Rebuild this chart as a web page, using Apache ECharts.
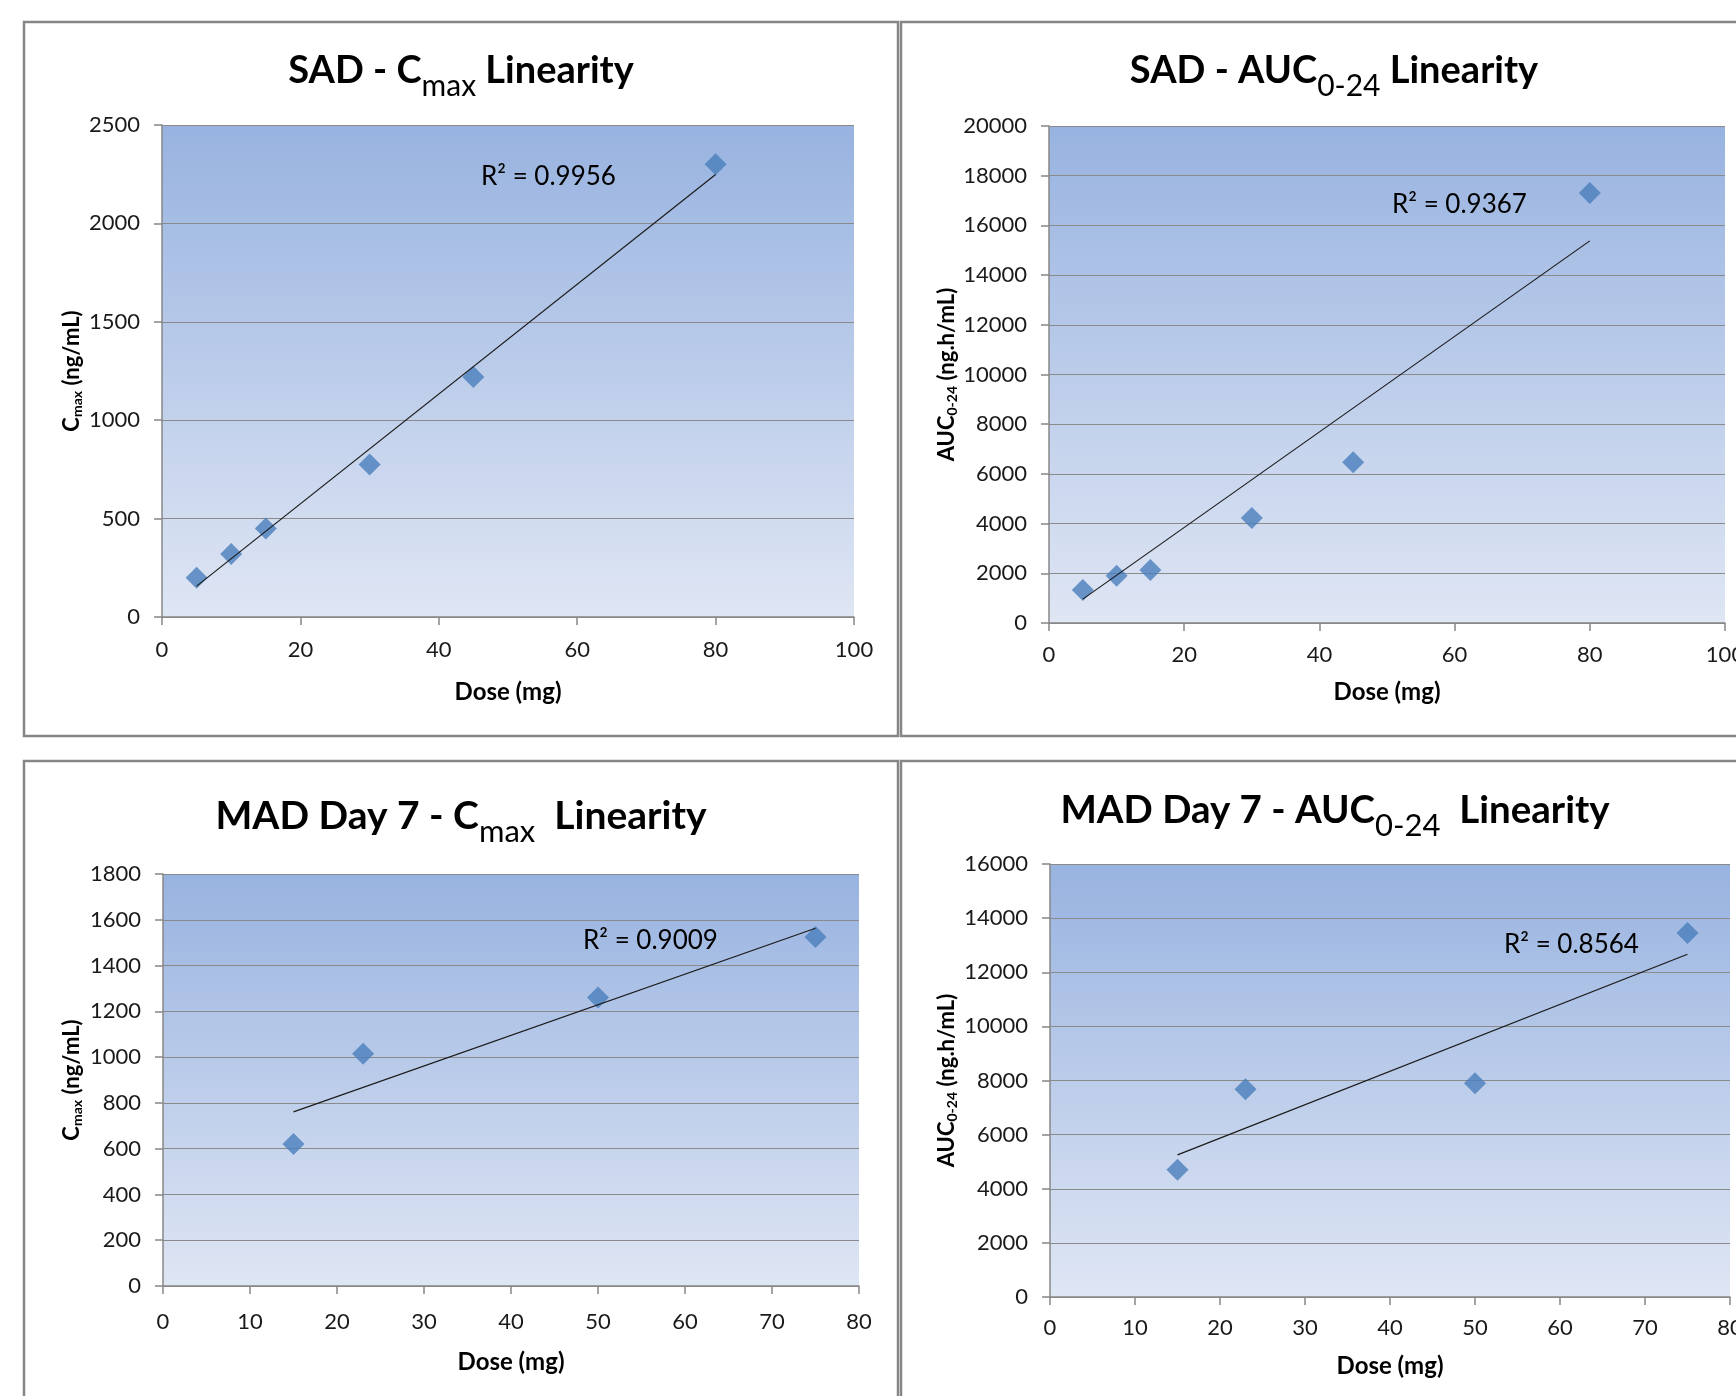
<!DOCTYPE html>
<html>
<head>
<meta charset="utf-8">
<script src="https://cdn.jsdelivr.net/npm/echarts@6/dist/echarts.min.js"></script>
<style>
  html, body { margin: 0; padding: 0; background: #fff; }
  #chart { width: 1736px; height: 1396px; }
</style>
</head>
<body>
<div id="chart"></div>
<script>
// 数据
const sadDose = [5, 10, 15, 30, 45, 80]
const sadCmax = [200, 320, 450, 775, 1220, 2300]
const sadAuc = [1330, 1900, 2130, 4230, 6470, 17300]
const madDose = [15, 23, 50, 75]
const madCmax = [620, 1015, 1260, 1525]
const madAuc = [4700, 7680, 7900, 13450]

// 坐标轴刻度
const xMax = [100, 100, 80, 80]
const xStep = [20, 20, 10, 10]
const yMax = [2500, 20000, 1800, 16000]
const yStep = [500, 2000, 200, 2000]

const r2Labels = ['R² = 0.9956', 'R² = 0.9367', 'R² = 0.9009', 'R² = 0.8564']

const FONT = 'Lato'
const AXIS_GRAY = '#878787'

// 面板布局
const panels = [
  { xs: sadDose, ys: sadCmax, zero: false,
    grid: { left: 162, top: 125, width: 692, height: 492 },
    title: { cx: 461, top: 52, size: 38, main: 'SAD - C', sub: 'max', tail: ' Linearity' },
    yName: 'C{s|max} (ng/mL)', yGap: 78, xGap: 63, xMargin: 22, r2: [481, 177] },
  { xs: sadDose, ys: sadAuc, zero: true,
    grid: { left: 1049, top: 126, width: 676, height: 497 },
    title: { cx: 1334, top: 52, size: 38, main: 'SAD - AUC', sub: '0-24', tail: ' Linearity' },
    yName: 'AUC{s|0-24} (ng.h/mL)', yGap: 90, xGap: 57, xMargin: 21, r2: [1392, 205] },
  { xs: madDose, ys: madCmax, zero: false,
    grid: { left: 163, top: 874, width: 696, height: 412 },
    title: { cx: 461, top: 797, size: 39, main: 'MAD Day 7 - C', sub: 'max', tail: '  Linearity' },
    yName: 'C{s|max} (ng/mL)', yGap: 79, xGap: 64, xMargin: 25, r2: [583, 941] },
  { xs: madDose, ys: madAuc, zero: false,
    grid: { left: 1050, top: 864, width: 680, height: 433 },
    title: { cx: 1335, top: 791, size: 38.5, main: 'MAD Day 7 - AUC', sub: '0-24', tail: '  Linearity' },
    yName: 'AUC{s|0-24} (ng.h/mL)', yGap: 91, xGap: 57, xMargin: 20, r2: [1504, 945] }
]

// 线性趋势线（最小二乘）
const fitLine = (xs, ys, zero) => {
  const n = xs.length
  let slope, icpt
  if (zero) {
    let sxy = 0, sxx = 0
    xs.forEach((x, i) => { sxy += x * ys[i]; sxx += x * x })
    slope = sxy / sxx
    icpt = 0
  } else {
    const mx = xs.reduce((a, b) => a + b, 0) / n
    const my = ys.reduce((a, b) => a + b, 0) / n
    let sxy = 0, sxx = 0
    xs.forEach((x, i) => { sxy += (x - mx) * (ys[i] - my); sxx += (x - mx) * (x - mx) })
    slope = sxy / sxx
    icpt = my - slope * mx
  }
  const x0 = Math.min(...xs)
  const x1 = Math.max(...xs)
  return [[x0, icpt + slope * x0], [x1, icpt + slope * x1]]
}

const plotBg = {
  type: 'linear', x: 0, y: 0, x2: 0, y2: 1,
  colorStops: [
    { offset: 0, color: '#98b3e0' },
    { offset: 1, color: '#dfe6f4' }
  ]
}

const chart = echarts.init(document.getElementById('chart'))

const option = {
  backgroundColor: '#fff',
  animation: false,
  title: panels.map(p => ({
    text: '{m|' + p.title.main + '}{s|' + p.title.sub + '}{m|' + p.title.tail + '}',
    left: p.title.cx,
    top: p.title.top,
    padding: 0,
    textAlign: 'center',
    textVerticalAlign: 'top',
    textStyle: {
      rich: {
        m: { fontFamily: FONT, fontWeight: 'bold', fontSize: p.title.size, color: '#000', lineHeight: 48, verticalAlign: 'top' },
        s: { fontFamily: FONT, fontWeight: 'normal', fontSize: Math.round(p.title.size * 0.8), color: '#000', lineHeight: 20, padding: [19, 0, 0, 0], verticalAlign: 'top' }
      }
    }
  })),
  grid: panels.map(p => Object.assign({
    show: true, backgroundColor: plotBg, borderWidth: 0,
    containLabel: false, outerBoundsMode: 'none'
  }, p.grid)),
  xAxis: panels.map((p, i) => ({
    type: 'value',
    gridIndex: i,
    min: 0,
    max: xMax[i],
    interval: xStep[i],
    name: 'Dose (mg)',
    nameLocation: 'middle',
    nameGap: p.xGap,
    nameTextStyle: { fontFamily: FONT, fontWeight: 'bold', fontSize: 24, color: '#000', lineHeight: 24 },
    axisLine: { show: true, lineStyle: { color: AXIS_GRAY, width: 1.5 } },
    axisTick: { show: true, inside: false, length: 8, lineStyle: { color: AXIS_GRAY, width: 1.5 } },
    axisLabel: { fontFamily: FONT, fontSize: 22, color: '#1a1a1a', margin: p.xMargin, showMaxLabel: true, formatter: v => String(v) },
    splitLine: { show: false }
  })),
  yAxis: panels.map((p, i) => ({
    type: 'value',
    gridIndex: i,
    min: 0,
    max: yMax[i],
    interval: yStep[i],
    name: p.yName,
    nameLocation: 'middle',
    nameRotate: 90,
    nameGap: p.yGap,
    nameTextStyle: {
      fontFamily: FONT, fontWeight: 'bold', fontSize: 22, color: '#000', lineHeight: 24,
      rich: {
        s: { fontFamily: FONT, fontWeight: 'bold', fontSize: 14, color: '#000', lineHeight: 12, verticalAlign: 'bottom' }
      }
    },
    axisLine: { show: true, lineStyle: { color: AXIS_GRAY, width: 1.5 } },
    axisTick: { show: true, inside: false, length: 8, lineStyle: { color: AXIS_GRAY, width: 1.5 } },
    axisLabel: { fontFamily: FONT, fontSize: 22, color: '#1a1a1a', margin: 22, formatter: v => String(v) },
    splitLine: { show: true, lineStyle: { color: '#8a8a8a', width: 1.2 } }
  })),
  series: [
    ...panels.map((p, i) => ({
      type: 'scatter',
      xAxisIndex: i,
      yAxisIndex: i,
      symbol: 'diamond',
      symbolSize: [22, 22],
      itemStyle: { color: '#4a7ebb' },
      data: p.xs.map((x, k) => [x, p.ys[k]]),
      z: 3
    })),
    ...panels.map((p, i) => ({
      type: 'line',
      xAxisIndex: i,
      yAxisIndex: i,
      showSymbol: false,
      silent: true,
      lineStyle: { color: '#1a1a1a', width: 1.2 },
      data: fitLine(p.xs, p.ys, p.zero),
      z: 4
    }))
  ],
  graphic: [
    // 面板边框
    ...[[24, 22], [901, 22], [24, 761], [901, 761]].map(([x, y]) => ({
      type: 'rect',
      shape: { x: x, y: y, width: 874, height: 714 },
      style: { fill: 'none', stroke: '#868686', lineWidth: 2.5 },
      z: -10,
      silent: true
    })),
    // R² 标注
    ...panels.map((p, i) => ({
      type: 'text',
      x: p.r2[0],
      y: p.r2[1],
      style: {
        text: r2Labels[i],
        fontFamily: FONT,
        fontSize: 26,
        fill: '#000',
        align: 'left',
        verticalAlign: 'middle'
      },
      z: 10
    }))
  ]
}

chart.setOption(option)
</script>
</body>
</html>
